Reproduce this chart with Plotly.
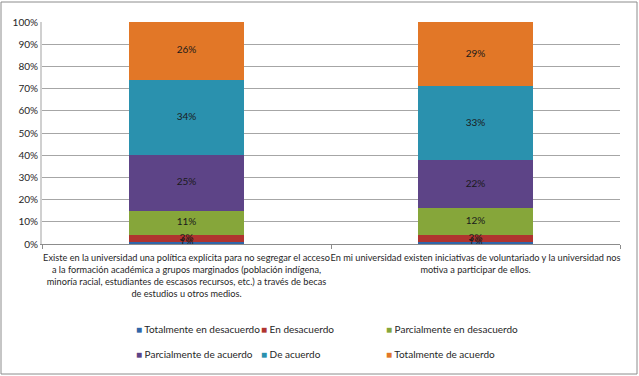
import plotly.graph_objects as go

categories = [
    "Existe en la universidad una política explícita para no segregar el acceso a la formación académica a grupos marginados (población indígena, minoría racial, estudiantes de escasos recursos, etc.) a través de becas de estudios u otros medios.",
    "En mi universidad existen iniciativas de voluntariado y la universidad nos motiva a participar de ellos.",
]
tick_labels = [
    "Existe en la universidad una política explícita para no segregar el acceso<br>a la formación académica a grupos marginados (población indígena,<br>minoría racial, estudiantes de escasos recursos, etc.) a través de becas<br>de estudios u otros medios.",
    "En mi universidad existen iniciativas de voluntariado y la universidad nos<br>motiva a participar de ellos.",
]
series_names = [
    "Totalmente en desacuerdo",
    "En desacuerdo",
    "Parcialmente en desacuerdo",
    "Parcialmente de acuerdo",
    "De acuerdo",
    "Totalmente de acuerdo",
]
totalmente_en_desacuerdo = [1, 1]
en_desacuerdo = [3, 3]
parcialmente_en_desacuerdo = [11, 12]
parcialmente_de_acuerdo = [25, 22]
de_acuerdo = [34, 33]
totalmente_de_acuerdo = [26, 29]
series_values = [
    totalmente_en_desacuerdo,
    en_desacuerdo,
    parcialmente_en_desacuerdo,
    parcialmente_de_acuerdo,
    de_acuerdo,
    totalmente_de_acuerdo,
]
colors = ["#3166A8", "#B0342F", "#86A63A", "#5D4487", "#2A91AE", "#E27727"]

FONT = "Lato"
W, H = 639, 376
ML, MR, MT, MB = 42, 19, 22, 132
pw = W - ML - MR
ph = H - MT - MB

fig = go.Figure()
for name, vals, col in zip(series_names, series_values, colors):
    fig.add_trace(go.Bar(
        x=categories, y=vals, name=name,
        marker=dict(color=col, line=dict(width=0)),
        showlegend=False, hoverinfo="skip",
    ))

# data labels, drawn above all bars, centred in each stacked segment
base = [0] * len(categories)
for name, vals in zip(series_names, series_values):
    mids = [b + v / 2 for b, v in zip(base, vals)]
    fig.add_trace(go.Scatter(
        x=categories, y=mids, mode="text",
        text=[f"{v}%" for v in vals],
        textfont=dict(family=FONT, size=10, color="#1a1a1a"),
        showlegend=False, hoverinfo="skip",
    ))
    base = [b + v for b, v in zip(base, vals)]

# legend: one single-entry legend per item, laid out in a 3x2 grid
legend_cols = [96, 221, 346]
legend_rows = [329, 354]
layout_legends = {}
for i, (name, col) in enumerate(zip(series_names, colors)):
    key = "legend" if i == 0 else f"legend{i + 1}"
    fig.add_trace(go.Scatter(
        x=[None], y=[None], mode="markers",
        name=f"<span style='color:{col}'>■</span> {name}",
        marker=dict(symbol="square", size=1, color="rgba(0,0,0,0)"),
        legend=key,
    ))
    layout_legends[key] = dict(
        x=(legend_cols[i % 3] - ML) / pw,
        y=(244 - legend_rows[i // 3]) / ph,
        xanchor="left", yanchor="middle", orientation="h",
        font=dict(family=FONT, size=10, color="#262626"),
        itemwidth=30, bgcolor="rgba(0,0,0,0)",
    )

fig.update_layout(
    width=W, height=H,
    margin=dict(l=ML, r=MR, t=MT, b=MB, autoexpand=False),
    paper_bgcolor="white", plot_bgcolor="white",
    barmode="stack", bargap=0.6,
    font=dict(family=FONT, size=10, color="#262626"),
    xaxis=dict(
        tickvals=categories, ticktext=tick_labels, tickangle=0,
        showline=True, linecolor="#8c8c8c", linewidth=1,
        ticks="outside", tickson="boundaries", ticklen=4, tickcolor="#8c8c8c",
        tickfont=dict(family=FONT, size=9.2, color="#262626"),
        ticklabelstandoff=5,
        showgrid=False,
    ),
    yaxis=dict(
        range=[0, 100], dtick=10, ticksuffix="%",
        showgrid=True, gridcolor="#a6a6a6", gridwidth=1,
        showline=True, linecolor="#d0d0d0", linewidth=2,
        tickfont=dict(family=FONT, size=10, color="#262626"),
        zeroline=False, ticks="", ticklen=0,
    ),
    shapes=[dict(
        type="rect", xref="paper", yref="paper",
        x0=(1 - ML) / pw, x1=1 + (MR - 2) / pw,
        y0=-(MB - 2) / ph, y1=1 + (MT - 2) / ph,
        line=dict(color="#8c8c8c", width=1), fillcolor="rgba(0,0,0,0)",
        layer="below",
    )],
    **layout_legends,
)
fig.write_html(
    "out.html",
    config={"displayModeBar": False},
    post_script="document.body.style.margin='0';",
)
